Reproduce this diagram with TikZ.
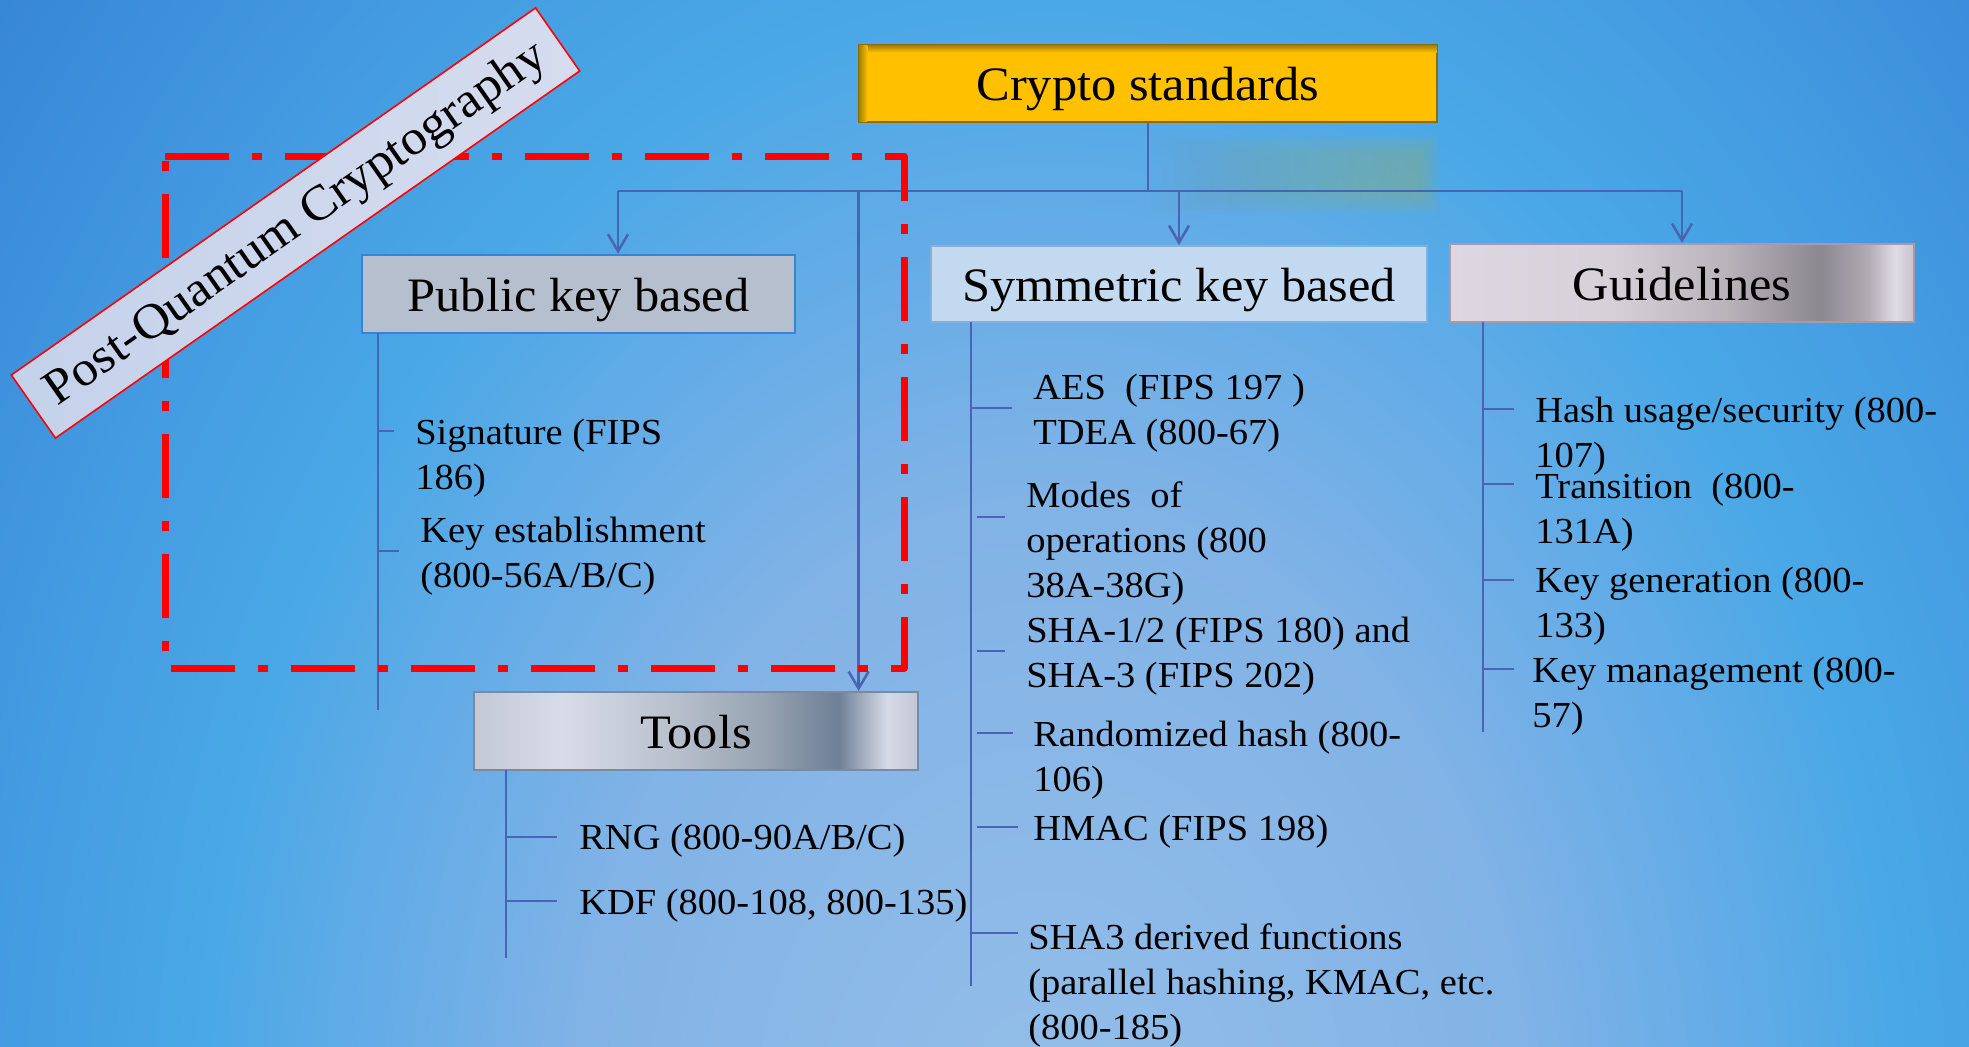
\documentclass[tikz,border=0pt]{standalone}
\usepackage{fontspec}
\setmainfont[FakeStretch=1.05]{Liberation Serif}
\usetikzlibrary{arrows.meta,calc}

% palette
\definecolor{bgA}{HTML}{94BEE9}
\definecolor{bgB}{HTML}{82B3E6}
\definecolor{bgC}{HTML}{64ACE7}
\definecolor{bgD}{HTML}{4AA8E6}
\definecolor{bgE}{HTML}{4298E0}
\definecolor{bgF}{HTML}{3686D6}
\definecolor{bgG}{HTML}{3080D2}
\definecolor{bus}{HTML}{4A64B4}
\definecolor{gold}{HTML}{FFC000}
\definecolor{goldedge}{HTML}{8C6C00}
\definecolor{goldshadow}{HTML}{A8820A}
\definecolor{pubfill}{HTML}{B6BFCD}
\definecolor{pubedge}{HTML}{3C80D8}
\definecolor{symfill}{HTML}{C2D9EF}
\definecolor{symedge}{HTML}{86B0DC}
\definecolor{guideedge}{HTML}{A898B0}
\definecolor{tooledge}{HTML}{7A8AA2}
\definecolor{g0}{HTML}{DCD7E0}
\definecolor{g1}{HTML}{D6D0D9}
\definecolor{g2}{HTML}{B8B2B9}
\definecolor{g3}{HTML}{8C8890}
\definecolor{g4}{HTML}{B0AAB3}
\definecolor{g5}{HTML}{E0DCE6}
\definecolor{g6}{HTML}{C8C2CC}
\definecolor{t0}{HTML}{C2C8D4}
\definecolor{t1}{HTML}{D8DCE8}
\definecolor{t2}{HTML}{B8C0CC}
\definecolor{t3}{HTML}{98A4B2}
\definecolor{t4}{HTML}{6E8096}
\definecolor{t5}{HTML}{D6DAE6}
\definecolor{t6}{HTML}{C0C6D2}
\definecolor{patchL}{HTML}{6AA6C4}
\definecolor{patchR}{HTML}{8CB086}
\definecolor{bannerL}{HTML}{C4D2EA}
\definecolor{bannerR}{HTML}{D6DCEE}
\definecolor{frame}{HTML}{FF0000}

% slide background and metallic box fills
\pgfdeclareradialshading{bgshade}{\pgfpoint{0bp}{0bp}}{color(0bp)=(bgA); color(6.9bp)=(bgB); color(10bp)=(bgC); color(12.5bp)=(bgD); color(16.25bp)=(bgE); color(20bp)=(bgF); color(25bp)=(bgG); color(50bp)=(bgG)}
\pgfdeclarehorizontalshading{guideshade}{100bp}{color(0bp)=(g0); color(25bp)=(g0); color(42.5bp)=(g1); color(55bp)=(g2); color(65bp)=(g3); color(70bp)=(g4); color(73bp)=(g5); color(75bp)=(g6); color(100bp)=(g6)}
\pgfdeclarehorizontalshading{toolshade}{100bp}{color(0bp)=(t0); color(25bp)=(t0); color(35bp)=(t1); color(47.5bp)=(t2); color(57.5bp)=(t3); color(66bp)=(t4); color(71.5bp)=(t5); color(75bp)=(t6); color(100bp)=(t6)}

\begin{document}
\begin{tikzpicture}[x=0.75pt,y=-0.75pt,
  ln/.style={draw=bus, line width=1.9pt},
  arr/.style={ln, -{Straight Barb[length=12.75pt,width=15pt]}},
  hdr/.style={inner sep=0pt, text height=26.2pt, text depth=0pt,
    font=\fontsize{36pt}{43pt}\selectfont, minimum height=57.75pt},
  % items are placed by the baseline of their last line
  item/.style={anchor=base west, inner sep=0pt, align=left,
    font=\fontsize{27.5pt}{33.75pt}\selectfont},
]
\useasboundingbox (0,0) rectangle (1969,1046);

% background
\begin{scope}
  \clip (0,0) rectangle (1969,1046);
  \shade[shading=bgshade] (1050,1150) ellipse [x radius=1275pt, y radius=1725pt];
\end{scope}

% soft reflection under the title
\foreach \i in {0,...,8}
  \shade[left color=patchL, right color=patchR, fill opacity=0.08]
    ({1150+12*\i},{135+2.5*\i}) rectangle ({1439-2.5*\i},{213-2.5*\i});

% headers
\node[hdr, fill=gold, draw=goldedge, line width=0.8pt, minimum width=433.5pt] (crypto) at (1148,83.5) {Crypto standards};
\shade[top color=goldshadow, bottom color=gold] ($(crypto.north west)+(1,1)$) rectangle ($(crypto.north east)+(-1,8)$);
\shade[left color=goldshadow, right color=gold] ($(crypto.north west)+(1,1)$) rectangle ($(crypto.south west)+(9,-1)$);

\node[hdr, fill=pubfill, draw=pubedge, line width=1.9pt, minimum width=324.75pt, minimum height=58.5pt] (pub) at (578.5,294) {Public key based};
\node[hdr, fill=symfill, draw=symedge, line width=1.5pt, minimum width=372pt, minimum height=57pt] (sym) at (1179,284) {Symmetric key based};
\node[hdr, shade, shading=guideshade, draw=guideedge, line width=1.5pt, minimum width=348pt, minimum height=58.5pt] (guide) at (1682,283) {Guidelines};
\node[hdr, shade, shading=toolshade, draw=tooledge, line width=1.5pt, minimum width=333pt, minimum height=58.5pt] (tools) at (696,731) {Tools};

% distribution bus
\coordinate (hub) at (1148,191);
\coordinate (busL) at (618,191);
\coordinate (busR) at (1682,191);
\coordinate (toolsj) at (858.6,191);
\draw[ln] (crypto.south) -- (hub);
\draw[ln] (busL) -- (busR);
\draw[arr] (busL) -- (busL |- pub.north);
\draw[arr] (sym.north |- hub) -- (sym.north);
\draw[arr] (busR) -- (guide.north);
\draw[arr] (toolsj) -- (toolsj |- tools.north);

% public key branch
\draw[ln] (378,333) -- (378,710);
\draw[ln] (378,431) -- (394,431);
\draw[ln] (378,551) -- (399,551);
\node[item] (sig) at (415,489) {Signature (FIPS\\186)};
\node[item] (kest) at (420,587) {Key establishment\\(800-56A/B/C)};

% symmetric key branch
\draw[ln] (971,322) -- (971,986);
\draw[ln] (971,408) -- (1012,408);
\draw[ln] (977,517) -- (1005,517);
\draw[ln] (977,651) -- (1005,651);
\draw[ln] (977,733) -- (1013,733);
\draw[ln] (977,827) -- (1018,827);
\draw[ln] (971,933) -- (1018,933);
\node[item] (aes) at (1033,444) {AES\ \ (FIPS 197 )\\TDEA (800-67)};
\node[item] (modes) at (1026,597) {Modes\ \ of\\operations (800\\38A-38G)};
\node[item] (sha) at (1026,687) {SHA-1/2 (FIPS 180) and\\SHA-3 (FIPS 202)};
\node[item] (rhash) at (1033,791) {Randomized hash (800-\\106)};
\node[item] (hmac) at (1033,840) {HMAC (FIPS 198)};
\node[item] (sha3d) at (1028,1039) {SHA3 derived functions\\(parallel hashing, KMAC, etc.\\(800-185)};

% guidelines branch
\draw[ln] (1483,322) -- (1483,732);
\draw[ln] (1483,409) -- (1514,409);
\draw[ln] (1483,484) -- (1514,484);
\draw[ln] (1483,580) -- (1514,580);
\draw[ln] (1483,669) -- (1514,669);
\node[item] (hashu) at (1535,467) {Hash usage/security (800-\\107)};
\node[item] (trans) at (1535,543) {Transition\ \ (800-\\131A)};
\node[item] (kgen) at (1535,637) {Key generation (800-\\133)};
\node[item] (kman) at (1532,727) {Key management (800-\\57)};

% tools branch
\draw[ln] (506,770) -- (506,958);
\draw[ln] (506,837) -- (557,837);
\draw[ln] (506,901) -- (557,901);
\node[item] (rng) at (579,849) {RNG (800-90A/B/C)};
\node[item] (kdf) at (579,914) {KDF (800-108, 800-135)};

% post-quantum frame
\draw[frame, line width=5.25pt, line join=round,
  dash pattern=on 48pt off 17.25pt on 7.5pt off 17.25pt]
  (165,156) -- (904,156) -- (904,668) -- (165,668) -- cycle;

% post-quantum banner
\node[shade, left color=bannerL, right color=bannerR, draw=frame, line width=1.2pt,
  rotate=35, minimum width=480pt, minimum height=57.75pt, inner sep=0pt,
  text height=25pt, text depth=4pt, font=\fontsize{37pt}{44pt}\selectfont]
  (pqc) at (295.5,223) {Post-Quantum Cryptography};
\end{tikzpicture}
\end{document}
